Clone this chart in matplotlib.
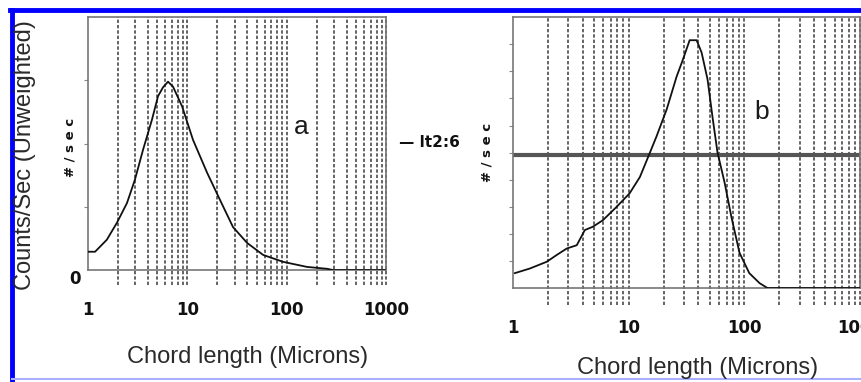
import numpy as np
import matplotlib.pyplot as plt
from matplotlib.lines import Line2D
import matplotlib.transforms as mtransforms

# panel a: chord length distribution (log x), counts/sec
chord_a = [1.0, 1.18, 1.55, 1.96, 2.47, 2.97, 3.58, 4.41, 5.07, 5.69, 6.39, 7.18,
           8.85, 11.4, 15.8, 21.3, 28.8, 39.9, 57.8, 92, 160, 255, 293, 1000]
counts_a = [0.29, 0.29, 0.48, 0.75, 1.06, 1.43, 1.9, 2.38, 2.75, 2.89, 2.98, 2.9,
            2.59, 2.06, 1.54, 1.11, 0.68, 0.43, 0.24, 0.13, 0.05, 0.02, 0.0, 0.0]

# panel b
chord_b = [1.04, 1.40, 1.96, 2.39, 2.92, 3.56, 4.18, 4.89, 5.97, 7.88, 10.2, 12.5,
           14.6, 17.4, 21.3, 25.9, 29.2, 33.6, 38.6, 42.6, 48.0, 53.0, 58.5, 67.3,
           77.3, 90.6, 110, 135, 158, 1000]
counts_b = [0.55, 0.72, 0.97, 1.22, 1.46, 1.58, 2.14, 2.26, 2.5, 3.0, 3.5, 4.1,
            4.8, 5.6, 6.6, 7.8, 8.4, 9.15, 9.15, 8.7, 7.7, 6.3, 5.0, 3.9,
            2.6, 1.3, 0.55, 0.18, 0.0, 0.0]

xtick_vals = [1, 10, 100, 1000]
xtick_labels = ["1", "10", "100", "1000"]
grid_vals = [m * 10 ** d for d in range(3) for m in range(2, 11)]

tick_font = ['Liberation Sans Narrow', 'DejaVu Sans Condensed', 'DejaVu Sans']
label_font = ['Liberation Sans', 'DejaVu Sans']
text_col = '#2a2a2a'

fig = plt.figure(figsize=(8.62, 3.82), dpi=100)


def setup_panel(ax, ymax, yticks, drop):
    ax.set_xscale('log')
    ax.set_xlim(1, 1000)
    ax.set_ylim(0, ymax)
    trans = mtransforms.blended_transform_factory(ax.transData, ax.transAxes)
    for g in grid_vals:
        ax.add_line(Line2D([g, g], [-drop, 1], transform=trans, color='#3a3a3a',
                           lw=1.1, ls=(0, (2.2, 1.3)), clip_on=False, zorder=1))
    ax.set_xticks(xtick_vals)
    ax.set_xticklabels(xtick_labels, family=tick_font, fontweight='bold',
                       fontsize=12, color='#111111')
    ax.xaxis.set_minor_locator(plt.NullLocator())
    ax.tick_params(axis='x', length=0, pad=22)
    ax.set_yticks(yticks)
    ax.set_yticklabels([])
    ax.tick_params(axis='y', length=3, color='#888888', direction='out')
    for s in ax.spines.values():
        s.set_color('#777777')
        s.set_linewidth(1.2)


# ---- panel a ----
ax1 = fig.add_axes([0.102, 0.293, 0.346, 0.662])
setup_panel(ax1, 4.0, [1, 2, 3], 0.06)
ax1.plot(chord_a, counts_a, color='#111111', lw=1.3, zorder=3)
ax1.text(140, 2.27, 'a', fontsize=19, family=label_font, color='#1a1a1a',
         ha='center', va='center')
ax1.text(-0.025, 0.0, '0', transform=ax1.transAxes, ha='right', va='top',
         fontsize=12, fontweight='bold', family=tick_font, color='#111111')
fig.text(0.081, 0.615, '# / s e c', rotation=90, ha='center', va='center',
         fontsize=9.5, fontweight='bold', color='#111111')

# ---- panel b ----
ax2 = fig.add_axes([0.595, 0.246, 0.403, 0.709])
setup_panel(ax2, 10.0, list(range(1, 10)), 0.063)
ax2.plot(chord_b, counts_b, color='#111111', lw=1.3, zorder=3)
ax2.axhline(4.9, color='#555555', lw=3, zorder=2)
ax2.text(140, 6.5, 'b', fontsize=19, family=label_font, color='#1a1a1a',
         ha='center', va='center')
fig.text(0.565, 0.60, '# / s e c', rotation=90, ha='center', va='center',
         fontsize=9.5, fontweight='bold', color='#111111')

# stray label between the panels
fig.text(0.463, 0.628, '\u2014 lt2:6', fontsize=11, fontweight='bold',
         family=tick_font, color='#111111', va='center')

# axis titles
fig.text(0.029, 0.594, 'Counts/Sec (Unweighted)', rotation=90, ha='center',
         va='center', fontsize=17, family=label_font, color=text_col)
fig.text(0.287, 0.066, 'Chord length (Microns)', ha='center', va='center',
         fontsize=17, family=label_font, color=text_col)
fig.text(0.809, 0.037, 'Chord length (Microns)', ha='center', va='center',
         fontsize=17, family=label_font, color=text_col)

# blue frame of the scanned figure
fig.add_artist(Line2D([0.014, 0.014], [0.0, 0.973], transform=fig.transFigure,
                      color='#0000ff', lw=3.5))
fig.add_artist(Line2D([0.012, 1.0], [0.973, 0.973], transform=fig.transFigure,
                      color='#0000ff', lw=3.5))
fig.add_artist(Line2D([0.014, 1.0], [0.007, 0.007], transform=fig.transFigure,
                      color='#aab0ff', lw=1.5))

fig.savefig('out.png', dpi=100)
